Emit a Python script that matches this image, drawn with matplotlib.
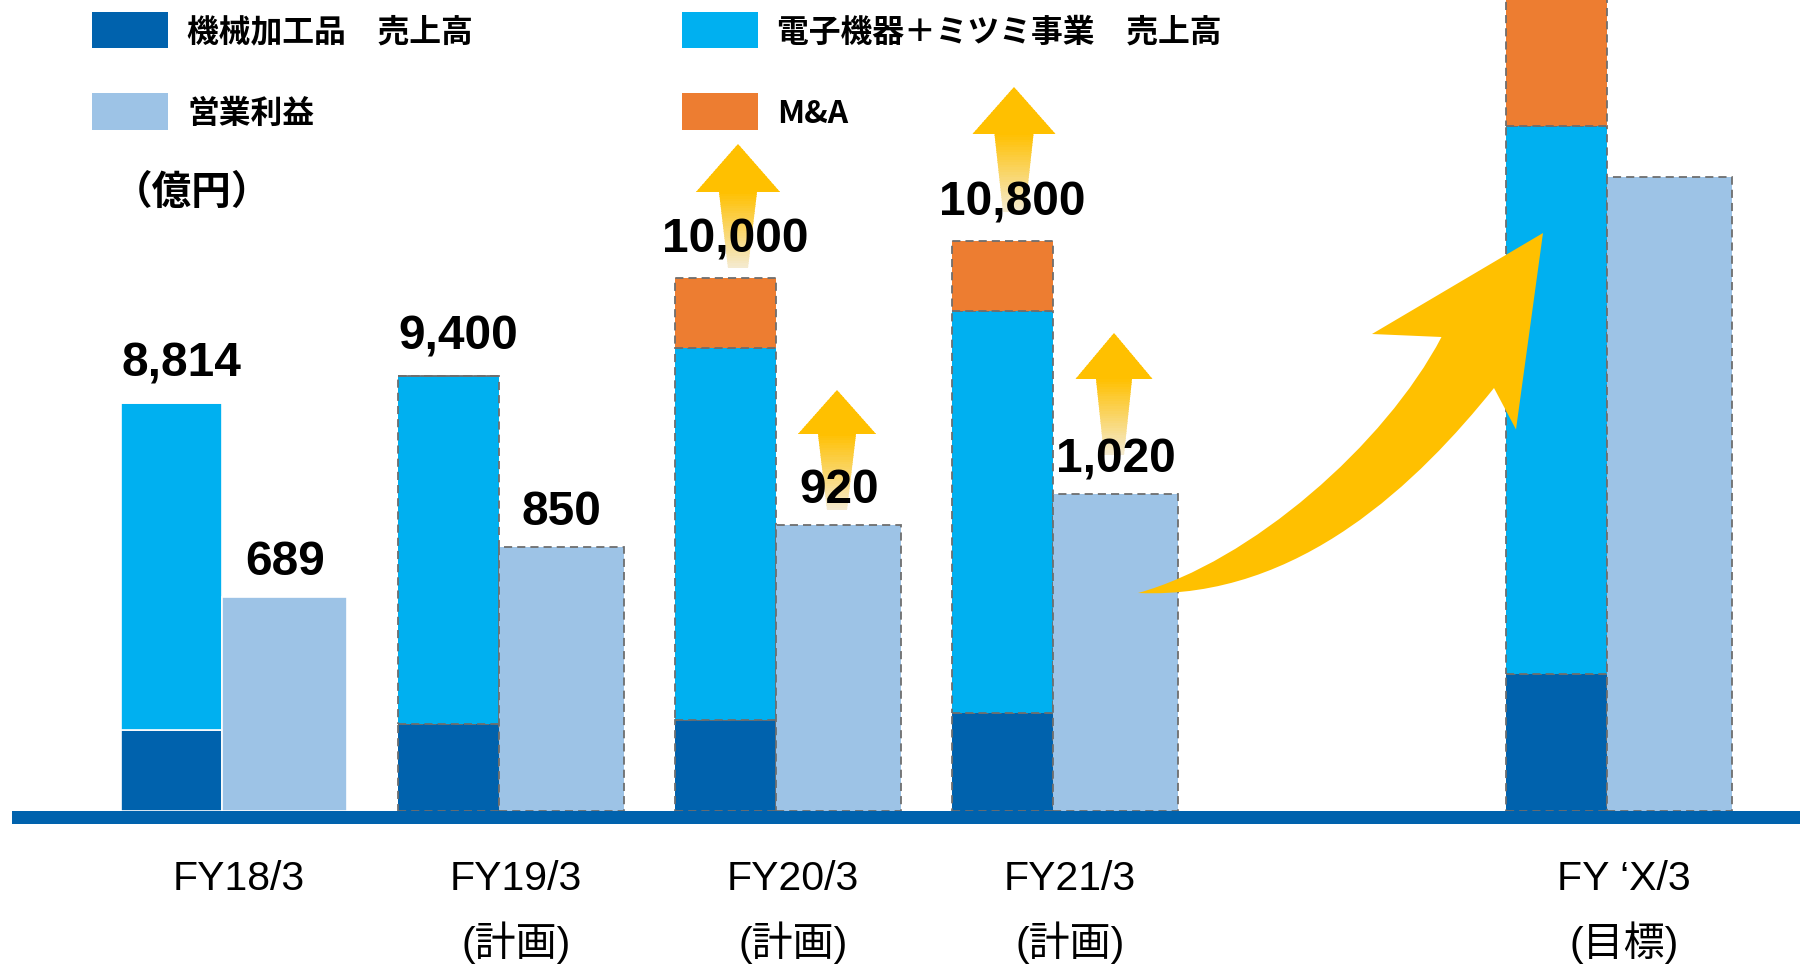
import numpy as np
import matplotlib
matplotlib.use('Agg')
import matplotlib.pyplot as plt
import matplotlib.transforms as mtransforms
from matplotlib.patches import Rectangle, PathPatch
from matplotlib.path import Path

plt.rcParams['font.family'] = ['Liberation Sans', 'Noto Sans CJK JP']

# Data (億円)
years = ['FY18/3', 'FY19/3\n(計画)', 'FY20/3\n(計画)', 'FY21/3\n(計画)', 'FY \u2018X/3\n(目標)']
pos = np.array([0, 1, 2, 3, 5])
machining = np.array([1740, 1860, 1960, 2110, 2950])
sales_total = np.array([8814, 9400, 10000, 10800, 14800])
ma = np.array([0, 0, 1500, 1500, 3000])
profit = np.array([689, 850, 920, 1020, 2040])
sales_labels = ['8,814', '9,400', '10,000', '10,800', '']
profit_labels = ['689', '850', '920', '1,020', '']
legend_names = ['機械加工品　売上高', '電子機器＋ミツミ事業　売上高', '営業利益', 'M&A']

electronics = sales_total - machining

c_dark = '#0062AD'
c_cyan = '#00B0F0'
c_light = '#9DC3E6'
c_orange = '#ED7D31'
c_gold = '#FFC000'
c_edge = '#6E6E6E'

W, H = 1800, 964
fig = plt.figure(figsize=(W / 100, H / 100), dpi=100)
ax = fig.add_axes([11.5 / W, (H - 810.5) / H, 1 - 11.5 / W, 810.5 / H])
ax2 = ax.twinx()

sw, pw = 0.365, 0.452
b1 = ax.bar(pos - sw, machining, sw, align='edge', color=c_dark)
b2 = ax.bar(pos - sw, electronics, sw, bottom=machining, align='edge', color=c_cyan)
b3 = ax.bar(pos - sw, ma, sw, bottom=sales_total, align='edge', color=c_orange)
b4 = ax2.bar(pos, profit, pw, align='edge', color=c_light, zorder=2)

# plan bars get a dashed grey border, actual bars a thin white one
for group in (b1, b2, b3, b4):
    for i, p in enumerate(group):
        if i == 0:
            p.set_edgecolor('white')
            p.set_linewidth(1.2)
        else:
            p.set_edgecolor(c_edge)
            p.set_linewidth(1.3)
            p.set_linestyle((0, (4.5, 2.8)))

ax.set_xlim(-0.760, 5.696)
ax.set_ylim(0, 17520)
ax2.set_ylim(0, 2612)
for a in (ax, ax2):
    for s in a.spines.values():
        s.set_visible(False)
    a.set_yticks([])
ax.set_xticks(pos + 0.06)
ax.set_xticklabels(years, fontsize=29.5, linespacing=1.65)
ax.tick_params(axis='x', length=0, pad=36)

# thick baseline
ax.add_patch(Rectangle((0, -13 / 810.5), 1, 13 / 810.5, transform=ax.transAxes,
                       color=c_dark, clip_on=False, lw=0))

# pixel coordinates (origin top-left) for decorations
pxT = mtransforms.Affine2D().scale(1 / 100, -1 / 100).translate(0, H / 100) + fig.dpi_scale_trans


def up_arrow(cx, tip, base, tail, hw, s_top, s_tail):
    verts = [(cx, tip), (cx + hw, base), (cx + s_top, base), (cx + s_tail, tail),
             (cx - s_tail, tail), (cx - s_top, base), (cx - hw, base), (cx, tip)]
    shape = PathPatch(Path(verts, closed=True), transform=pxT, facecolor='none',
                      edgecolor='none')
    ax2.add_patch(shape)
    top = np.array(matplotlib.colors.to_rgb(c_gold))
    bot = np.array(matplotlib.colors.to_rgb('#F4EBD2'))
    n = 50
    step = (tail - tip) / n
    for k in range(n):
        y0 = tip + k * step
        t = np.clip((y0 + step / 2 - base) / (tail - base), 0, 1)
        col = top * (1 - t) + bot * t
        r = Rectangle((cx - hw - 2, y0), 2 * hw + 4, step + 1, transform=pxT,
                      color=col, lw=0, zorder=3)
        ax2.add_patch(r)
        r.set_clip_path(shape)


up_arrow(738, 144, 192, 268, 42, 19, 10)
up_arrow(1014, 87, 134, 212, 41.5, 19.5, 11)
up_arrow(837, 390, 434, 510, 39, 19, 10)
up_arrow(1114, 333, 379, 455, 38.5, 18, 10)

# big curved arrow to the target year
big = Path([(1138, 593), (1250, 562), (1385, 445), (1441.5, 337),
            (1372, 334), (1543, 233), (1516, 429.5), (1494, 388),
            (1420, 480), (1300, 600), (1138, 593), (1138, 593)],
           [Path.MOVETO, Path.CURVE4, Path.CURVE4, Path.CURVE4,
            Path.LINETO, Path.LINETO, Path.LINETO, Path.LINETO,
            Path.CURVE4, Path.CURVE4, Path.CURVE4, Path.CLOSEPOLY])
ax2.add_patch(PathPatch(big, transform=pxT, facecolor=c_gold, edgecolor='none', zorder=4))

# value labels
for i in range(len(pos)):
    if sales_labels[i]:
        ax2.annotate(sales_labels[i], xy=(pos[i] - sw / 2 + 0.035, sales_total[i] + ma[i]),
                     xycoords=ax.transData, xytext=(0, 19), textcoords='offset points',
                     ha='center', va='baseline', fontsize=34.5, fontweight='bold', zorder=6)
    if profit_labels[i]:
        ax2.annotate(profit_labels[i], xy=(pos[i] + pw / 2, profit[i]),
                     xytext=(0, 15.5), textcoords='offset points',
                     ha='center', va='baseline', fontsize=34.5, fontweight='bold', zorder=6)

# legend drawn by hand
leg_colors = [c_dark, c_cyan, c_light, c_orange]
leg_x = [92, 682, 92, 682]
leg_y = [11.5, 11.5, 93, 93]
for name, col, lx, ly in zip(legend_names, leg_colors, leg_x, leg_y):
    fig.patches.append(Rectangle((lx / W, 1 - (ly + 36.5) / H), 76 / W, 36.5 / H,
                                 transform=fig.transFigure, color=col, lw=0))
    fig.text((lx + 95) / W, 1 - (ly + 21) / H, name, family=['Noto Sans CJK JP'],
             fontweight='bold', fontsize=22.9, va='center', ha='left')

fig.text(113 / W, 1 - 192 / H, '（億円）', family=['Noto Sans CJK JP'],
         fontweight='bold', fontsize=28.5, va='center', ha='left')

fig.savefig('out.png', dpi=100)
